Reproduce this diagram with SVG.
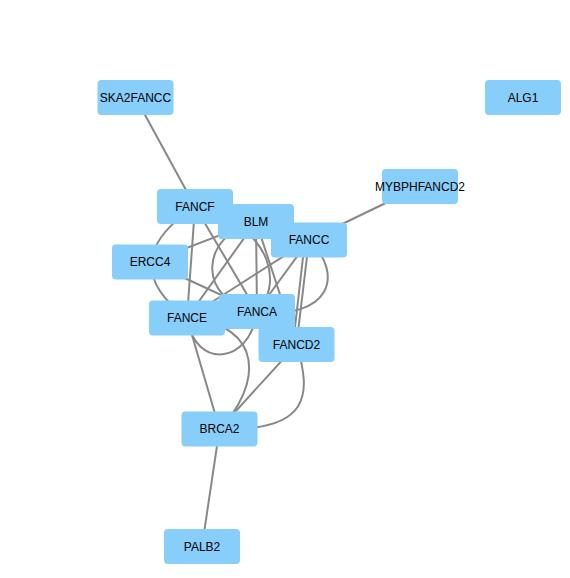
<svg xmlns="http://www.w3.org/2000/svg" width="570" height="578" viewBox="0 0 570 578">
<style>
.e{fill:none;stroke:#888888;stroke-width:2}
.n rect{fill:#87CEFA}
.n text{font-family:"Liberation Sans",Arial,sans-serif;font-size:12px;fill:#000;text-anchor:middle;dominant-baseline:central}
</style>
<rect width="570" height="578" fill="#ffffff"/>
<g id="edges">
<path class="e" d="M135.5,97.5 L195,206.5"/>
<path class="e" d="M420,186.5 L309,240"/>
<path class="e" d="M219.5,429 L202,546.5"/>
<path class="e" d="M296.5,344.5 L219.5,429"/>
<path class="e" d="M296.5,344.5 C312,395 310,432 219.5,429"/>
<path class="e" d="M187,318 L219.5,429"/>
<path class="e" d="M187,318 C265,325 262,385 219.5,429"/>
<path class="e" d="M187,318 C195,370 250,365 257,311.5"/>
<path class="e" d="M195,206.5 L187,318"/>
<path class="e" d="M195,206.5 Q112,262 187,318"/>
<path class="e" d="M150,262 L256,221.5"/>
<path class="e" d="M150,262 L257,311.5"/>
<path class="e" d="M309,240 L187,318"/>
<path class="e" d="M309,240 L257,311.5"/>
<path class="e" d="M309,240 C345,275 330,320 257,311.5"/>
<path class="e" d="M309,240 L296.5,344.5"/>
<path class="e" d="M305,240 L293,344.5"/>
<path class="e" d="M256,221.5 L257,311.5"/>
<path class="e" d="M256,221.5 L296.5,344.5"/>
<path class="e" d="M256,221.5 L187,318"/>
<path class="e" d="M195,206.5 L257,311.5"/>
<path class="e" d="M256,221.5 C200,235 195,300 257,311.5"/>
<path class="e" d="M195,206.5 C280,230 280,290 257,311.5"/>
</g>
<g id="node-SKA2FANCC" class="n"><rect x="97.5" y="80" width="76" height="35" rx="4"/><text x="135.5" y="97.5">SKA2FANCC</text></g>
<g id="node-ALG1" class="n"><rect x="485" y="80" width="76" height="35" rx="4"/><text x="523" y="97.5">ALG1</text></g>
<g id="node-MYBPHFANCD2" class="n"><rect x="382" y="169" width="76" height="35" rx="4"/><text x="420" y="186.5">MYBPHFANCD2</text></g>
<g id="node-FANCF" class="n"><rect x="157" y="189" width="76" height="35" rx="4"/><text x="195" y="206.5">FANCF</text></g>
<g id="node-BLM" class="n"><rect x="218" y="204" width="76" height="35" rx="4"/><text x="256" y="221.5">BLM</text></g>
<g id="node-FANCC" class="n"><rect x="271" y="222.5" width="76" height="35" rx="4"/><text x="309" y="240">FANCC</text></g>
<g id="node-ERCC4" class="n"><rect x="112" y="244.5" width="76" height="35" rx="4"/><text x="150" y="262">ERCC4</text></g>
<g id="node-FANCE" class="n"><rect x="149" y="300.5" width="76" height="35" rx="4"/><text x="187" y="318">FANCE</text></g>
<g id="node-FANCA" class="n"><rect x="219" y="294" width="76" height="35" rx="4"/><text x="257" y="311.5">FANCA</text></g>
<g id="node-FANCD2" class="n"><rect x="258.5" y="327" width="76" height="35" rx="4"/><text x="296.5" y="344.5">FANCD2</text></g>
<g id="node-BRCA2" class="n"><rect x="181.5" y="411.5" width="76" height="35" rx="4"/><text x="219.5" y="429">BRCA2</text></g>
<g id="node-PALB2" class="n"><rect x="164" y="529" width="76" height="35" rx="4"/><text x="202" y="546.5">PALB2</text></g>
</svg>
